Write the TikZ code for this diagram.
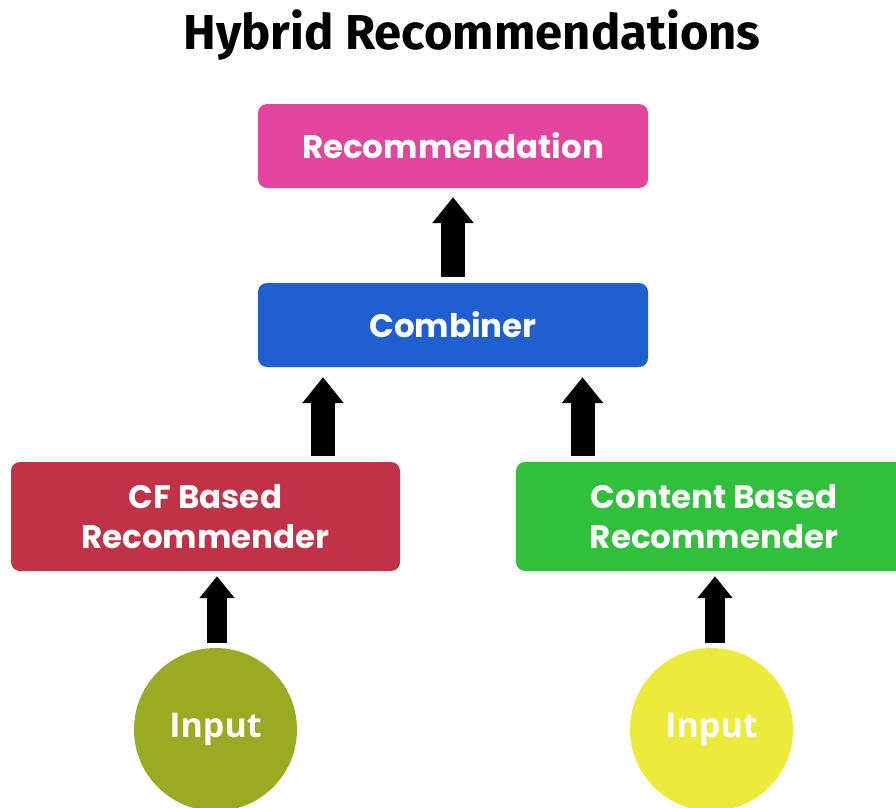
\documentclass[tikz,border=0pt]{standalone}
\usepackage{fontspec}
\setmainfont{Poppins}
\newfontfamily\titlefont{Fira Sans}
\newfontfamily\inputfont{Open Sans}
\usetikzlibrary{arrows.meta}
\definecolor{cpink}{HTML}{E2449E}
\definecolor{cblue}{HTML}{1F5FD0}
\definecolor{cred}{HTML}{C13148}
\definecolor{cgreen}{HTML}{30C03C}
\definecolor{colive}{HTML}{9AAA22}
\definecolor{cyellow}{HTML}{ECEB3C}
\begin{document}
\begin{tikzpicture}[x=1pt,y=-1pt,
  box/.style={rounded corners=9pt, inner sep=0pt, text=white, align=center,
    font=\bfseries\fontsize{32.5}{39.5}\selectfont},
  inp/.style={circle, inner sep=0pt, minimum size=163pt, text=white,
    font=\inputfont\bfseries\fontsize{34}{40}\selectfont},
  blkbig/.style={line width=24pt, -{Triangle[width=40pt,length=26pt]}},
  blksmall/.style={line width=20pt, -{Triangle[width=34pt,length=22pt]}}]
\useasboundingbox (0,0) rectangle (896,807);
\clip (0,0) rectangle (896,807);
\node[font=\titlefont\bfseries\fontsize{49}{58}\selectfont] (title) at (472,35) {Hybrid Recommendations};
\node[box, fill=cpink, minimum width=390pt, minimum height=84pt] (rec) at (453,146) {Recommendation};
\node[box, fill=cblue, minimum width=390pt, minimum height=84pt] (comb) at (453,325) {Combiner};
\node[box, fill=cred, minimum width=389pt, minimum height=109pt] (cf) at (205.5,516.5) {CF Based\\Recommender};
\node[box, fill=cgreen, minimum width=396pt, minimum height=109pt] (cb) at (714,516.5) {Content Based\\Recommender};
\node[inp, fill=colive] (in1) at (215.5,729.5) {Input};
\node[inp, fill=cyellow] (in2) at (711.5,729.5) {Input};
\coordinate (ax1) at (323,0);
\coordinate (ax2) at (582.5,0);
\coordinate (ax3) at (217,0);
\coordinate (ax4) at (715,0);
\draw[blkbig] ([yshift=6pt]comb.north) -- ([yshift=-9pt]rec.south);
\draw[blkbig, shorten <=6pt, shorten >=10pt] (cf.north -| ax1) -- (comb.south -| ax1);
\draw[blkbig, shorten <=6pt, shorten >=10pt] (cb.north -| ax2) -- (comb.south -| ax2);
\draw[blksmall, shorten <=5pt, shorten >=5pt] (in1.north -| ax3) -- (cf.south -| ax3);
\draw[blksmall, shorten <=5pt, shorten >=5pt] (in2.north -| ax4) -- (cb.south -| ax4);
\end{tikzpicture}
\end{document}
